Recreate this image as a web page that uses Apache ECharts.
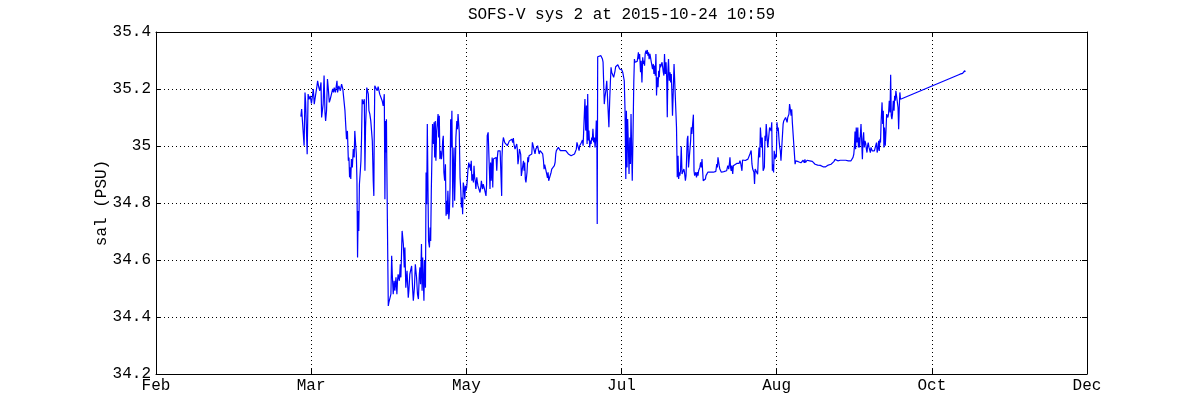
<!DOCTYPE html>
<html><head><meta charset="utf-8">
<script src="https://cdn.jsdelivr.net/npm/echarts@6/dist/echarts.min.js"></script>
<style>html,body{margin:0;padding:0;background:#fff}#c{width:1200px;height:420px}</style>
</head><body><div id="c"></div>
<script>
// x: days since 2015-02-01; ticks every 50.5 days (Feb .. Dec)
const monthLabels = ['Feb','Mar','May','Jul','Aug','Oct','Dec'];
const xMin = 0, xMax = 303, xStep = 50.5;
const yMin = 34.2, yMax = 35.4, yStep = 0.2;
const titleText = 'SOFS-V sys 2 at 2015-10-24 10:59';
const yName = 'sal (PSU)';

// salinity (PSU) samples [day, sal]
const obsMarEarly = [[47.15,35.103],[47.4,35.130],[47.9,35.135],[48.2,35.001],[48.5,35.188],[48.7,35.153],[49.1,35.153],[49.2,34.971],[49.5,35.182],[49.8,35.164],[50.2,35.176],[50.6,35.149],[50.8,35.149],[51.2,35.200],[51.5,35.147],[51.9,35.176],[52.4,35.211],[52.6,35.229],[53.0,35.205],[53.3,35.194],[53.7,35.223],[53.9,35.100],[54.4,35.147],[54.7,35.247],[55.0,35.118],[55.2,35.088],[55.5,35.124],[55.8,35.235],[56.05,35.205],[56.4,35.153],[56.7,35.164],[57.1,35.182],[57.5,35.200],[57.8,35.188],[58.0,35.205],[58.4,35.188],[58.9,35.229],[59.1,35.188],[59.5,35.211],[60.0,35.194],[60.4,35.217],[60.8,35.200],[61.3,35.205],[61.5,35.124]];
const obsMarLate = [[61.7,35.083],[62.0,35.024],[62.3,35.053],[62.6,34.948],[62.8,34.960],[63.0,34.890],[63.2,34.925],[63.4,34.884],[63.6,34.954],[63.9,34.925],[64.2,34.989],[64.5,34.960],[64.7,35.053],[64.9,35.018],[65.2,34.971],[65.4,34.878],[65.6,34.609],[65.8,34.772],[66.0,34.702],[66.2,34.866],[66.5,34.913],[66.7,34.948],[66.9,35.030],[67.1,35.164],[67.4,35.147],[67.8,35.164],[68.0,34.913],[68.2,35.065],[68.4,35.124],[68.6,35.205],[68.9,35.211],[69.1,35.182],[69.3,35.124],[69.6,35.112],[69.9,35.088],[70.4,35.018],[70.7,34.878],[70.9,34.825],[71.0,35.007],[71.2,35.211],[71.7,35.205],[72.0,35.194],[72.3,35.208],[72.8,35.182],[73.2,35.188],[73.6,35.159],[73.95,35.141],[74.3,35.182],[74.5,34.813],[74.7,35.088],[74.8,34.977],[75.0,35.094],[75.1,34.960],[75.4,34.638]];
const obsApr = [[75.6,34.439],[75.8,34.451],[76.1,34.445],[76.45,34.480],[76.7,34.615],[76.9,34.550],[77.2,34.480],[77.5,34.527],[77.75,34.492],[78.1,34.539],[78.4,34.480],[78.6,34.527],[78.8,34.550],[79.2,34.527],[79.5,34.585],[79.7,34.539],[79.9,34.620],[80.1,34.702],[80.5,34.656],[80.8,34.574],[81.0,34.644],[81.3,34.503],[81.7,34.562],[82.1,34.468],[82.3,34.492],[82.6,34.550],[83.2,34.579],[83.5,34.503],[83.75,34.457],[84.1,34.503],[84.4,34.585],[84.6,34.591],[84.8,34.539],[85.1,34.480],[85.4,34.463],[85.7,34.550],[85.9,34.574],[86.1,34.515],[86.4,34.656],[86.6,34.492],[86.8,34.609],[87.0,34.527],[87.2,34.457],[87.4,34.597],[87.7,34.503]];
const obsAprMay = [[87.9,34.907],[88.1,34.796],[88.3,35.077],[88.5,35.071],[88.7,34.667],[89.0,34.644],[89.2,34.714],[89.4,34.667],[89.6,34.843],[89.8,34.849],[90.0,35.077],[90.3,35.007],[90.5,35.083],[90.7,34.960],[90.9,35.088],[91.1,34.948],[91.35,35.053],[91.8,35.112],[92.0,35.030],[92.2,35.106],[92.4,34.954],[92.65,34.983],[92.9,34.954],[93.1,34.971],[93.3,35.018],[93.5,35.036],[93.7,34.907],[93.95,34.878],[94.2,34.936],[94.4,34.755],[94.6,34.808],[94.8,34.761],[95.0,34.843],[95.3,34.743],[95.5,34.772],[95.7,34.854],[95.9,35.094],[96.1,34.995],[96.3,35.124],[96.6,34.784],[96.8,34.936],[97.0,34.995],[97.2,34.808],[97.4,34.907],[97.6,35.030],[97.9,35.088],[98.1,35.059],[98.3,35.112],[98.5,35.118],[98.7,35.048],[98.95,34.890],[99.2,34.843],[99.4,34.784],[99.6,34.819],[99.8,34.761],[100.0,34.872],[100.25,34.854],[100.5,34.813],[100.7,34.860],[100.9,34.843],[101.1,34.854],[101.3,34.878],[101.5,34.913],[101.8,34.942],[102.0,34.925],[102.2,34.936],[102.4,34.913],[102.6,34.948],[102.8,34.878],[103.1,34.901],[103.3,34.872],[103.5,34.931],[103.7,34.890],[103.9,34.878],[104.1,34.849],[104.4,34.890],[104.6,34.872],[104.8,34.860],[105.0,34.854],[105.2,34.866],[105.45,34.837],[105.7,34.854],[105.9,34.878],[106.1,34.860],[106.3,34.849],[106.5,34.866],[106.8,34.854],[107.0,34.860],[107.2,34.849],[107.4,34.825],[107.6,34.866]];
const obsMay = [[107.8,35.036],[108.1,35.048],[108.3,35.042],[108.5,35.053],[108.7,34.849],[108.9,34.942],[109.1,34.878],[109.4,34.960],[109.6,34.854],[109.8,34.954],[110.0,34.954],[110.3,34.960],[110.7,34.960],[110.9,34.913],[111.1,34.960],[111.3,34.983],[111.5,34.989],[111.75,34.986],[112.0,34.983],[112.2,34.977],[112.5,34.825],[112.6,34.960],[112.8,35.007],[113.05,35.030],[113.3,35.036],[113.5,35.012],[113.7,35.018],[113.9,35.007],[114.1,35.012],[114.35,35.001],[114.7,34.995],[115.0,35.018],[115.2,35.024],[115.4,35.012],[115.8,35.024],[116.1,35.012],[116.3,35.028],[116.5,35.007],[116.85,34.989],[117.2,34.995],[117.4,35.007],[117.6,34.989],[117.8,34.936],[118.0,34.954],[118.3,34.989],[118.5,34.983],[118.7,34.971],[118.9,34.895],[119.1,34.890],[119.3,34.925],[119.6,34.948],[119.8,34.913],[120.0,34.942],[120.2,34.884],[120.4,34.872]];
const obsJun = [[120.75,34.908],[121.0,34.960],[121.2,34.943],[121.4,34.966],[121.7,34.966],[122.05,34.972],[122.3,34.972],[122.5,35.013],[122.8,35.019],[123.1,35.007],[123.35,34.972],[123.6,34.989],[123.9,34.995],[124.2,35.001],[124.4,34.989],[124.7,34.972],[125.0,34.984],[125.3,34.978],[125.5,34.978],[125.85,34.972],[126.1,34.949],[126.3,34.919],[126.5,34.935],[126.7,34.925],[126.9,34.931],[127.15,34.902],[127.4,34.888],[127.6,34.908],[127.8,34.878],[128.1,34.884],[128.35,34.878],[128.6,34.908],[128.8,34.919],[129.0,34.913],[129.3,34.919],[129.65,34.931],[129.9,34.943],[130.1,34.972],[130.3,34.984],[130.5,34.984],[130.7,34.989],[130.95,34.995],[131.2,35.001],[131.4,34.995],[131.6,34.984],[131.8,34.989],[132.25,34.989],[132.6,34.984],[132.9,34.989],[133.35,34.984],[133.8,34.984],[134.0,34.978],[134.2,34.972],[134.4,34.966],[134.75,34.966],[135.1,34.966],[135.3,34.972],[135.7,34.970],[136.2,34.972],[136.6,34.972],[136.8,34.989],[137.0,35.013],[137.2,35.019],[137.5,35.019],[137.7,34.984],[137.9,35.001],[138.1,35.007],[138.5,35.013],[138.8,35.021],[139.0,35.001],[139.2,34.995],[139.4,35.007],[139.6,35.165],[139.85,35.054],[140.1,35.142],[140.3,35.007],[140.5,35.182],[140.7,35.019],[140.9,35.054],[141.15,34.995],[141.4,35.019],[141.6,35.007],[141.8,35.030],[142.0,35.019],[142.2,35.060],[142.45,35.013],[142.7,35.030],[142.9,34.995],[143.1,35.025],[143.3,35.089],[143.5,34.995],[143.6,34.726]];
const obsJunJul = [[143.75,35.313],[144.0,35.317],[144.4,35.311],[144.8,35.317],[145.3,35.305],[145.5,35.294],[145.7,35.299],[145.9,35.147],[146.1,35.171],[146.4,35.194],[146.7,35.229],[146.9,35.182],[147.2,35.112],[147.4,35.066],[147.65,35.159],[147.9,35.229],[148.1,35.276],[148.3,35.259],[148.5,35.253],[148.75,35.259],[148.95,35.241],[149.2,35.235],[149.4,35.264],[149.6,35.278],[149.9,35.282],[150.3,35.285],[150.6,35.282],[150.9,35.270],[151.2,35.264],[151.6,35.267],[151.9,35.259],[152.1,35.253],[152.4,35.229],[152.65,35.124],[152.9,34.884],[153.1,35.124],[153.3,34.925],[153.5,35.095],[153.7,35.019],[153.95,34.902],[154.2,35.030],[154.4,34.937],[154.6,35.112],[154.8,34.984],[155.0,34.878],[155.25,35.042],[155.5,35.223],[155.7,35.305],[155.9,35.294],[156.1,35.299],[156.3,35.288],[156.6,35.297],[156.8,35.311],[157.0,35.329],[157.2,35.305],[157.4,35.323]];
const obsJul = [[157.7,35.259],[157.9,35.299],[158.15,35.223],[158.4,35.311],[158.6,35.288],[158.8,35.299],[159.0,35.282],[159.2,35.323],[159.45,35.335],[159.7,35.323],[159.9,35.337],[160.1,35.317],[160.3,35.329],[160.5,35.305],[160.75,35.323],[161.0,35.329],[161.2,35.294],[161.4,35.288],[161.6,35.270],[161.85,35.288],[162.05,35.253],[162.3,35.282],[162.5,35.247],[162.7,35.323],[162.9,35.177],[163.1,35.241],[163.4,35.206],[163.6,35.264],[163.8,35.241],[164.0,35.288],[164.2,35.276],[164.4,35.282],[164.7,35.294],[164.9,35.299],[165.1,35.259],[165.3,35.247],[165.5,35.323],[165.75,35.253],[166.0,35.294],[166.2,35.241],[166.4,35.101],[166.6,35.264],[166.8,35.305],[167.05,35.229],[167.3,35.259],[167.5,35.223],[167.7,35.253],[167.9,35.188],[168.1,35.106],[168.35,35.194],[168.6,35.288],[168.8,35.294],[169.0,35.290],[169.2,35.288],[169.4,35.066]];
const obsJulAug = [[169.65,34.890],[169.9,34.966],[170.1,34.884],[170.3,34.908],[170.5,34.896],[170.7,34.913],[170.95,34.998],[171.2,34.902],[171.4,34.908],[171.6,34.896],[171.8,34.919],[172.0,34.908],[172.3,34.878],[172.5,34.896],[172.7,34.896],[172.9,35.024],[173.1,35.036],[173.3,34.925],[173.6,34.919],[173.8,34.919],[174.0,35.019],[174.2,35.066],[174.4,35.042],[174.6,35.071],[174.9,35.110],[175.1,34.913],[175.3,34.896],[175.5,34.902],[175.7,34.908],[175.9,34.890],[176.2,34.908],[176.4,34.896],[176.6,34.913],[176.8,34.908],[177.0,34.925],[177.25,34.943],[177.5,34.925],[177.7,34.954],[177.9,34.913],[178.1,34.878],[178.3,34.876],[178.5,34.873],[178.8,34.884],[179.0,34.896],[179.2,34.902],[179.6,34.908],[180.1,34.911],[180.5,34.908],[180.9,34.913],[181.4,34.908],[181.8,34.908],[182.2,34.911],[182.5,34.937],[182.7,34.925],[182.9,34.960],[183.1,34.966],[183.3,34.931],[183.5,34.919],[184.0,34.908],[184.4,34.911],[184.8,34.910],[185.3,34.913],[185.7,34.913],[186.1,34.931],[186.4,34.919],[186.6,34.937],[186.8,34.960],[187.0,34.925],[187.2,34.913],[187.4,34.931],[187.7,34.902],[187.9,34.931],[188.1,34.935],[188.5,34.937],[189.0,34.939],[189.4,34.939],[189.8,34.939],[190.05,34.949],[190.3,34.939],[190.5,34.943],[190.7,34.913],[190.9,34.951],[191.35,34.951],[191.8,34.949],[192.2,34.951],[192.65,34.954],[193.1,34.949],[193.3,34.972],[193.5,34.966],[193.7,34.984],[193.95,34.937],[194.2,34.919],[194.4,34.925],[194.6,34.908],[194.8,34.867],[195.0,34.919]];
const obsAug = [[195.4,34.913],[195.8,34.901],[196.0,34.948],[196.25,34.995],[196.5,34.960],[196.7,35.065],[196.9,35.071],[197.1,34.995],[197.3,35.030],[197.6,34.913],[197.8,34.907],[198.0,34.925],[198.2,35.036],[198.4,35.018],[198.6,35.077],[198.9,35.083],[199.1,34.995],[199.3,35.018],[199.5,35.042],[199.7,35.065],[199.9,35.071],[200.2,35.053],[200.4,35.083],[200.6,34.913],[200.8,34.936],[201.0,34.907],[201.2,34.983],[201.5,34.954],[201.7,34.971],[201.9,34.960],[202.1,35.083],[202.3,35.053],[202.5,35.065],[202.8,35.018],[203.0,34.995],[203.2,34.983],[203.4,34.948],[203.6,34.954],[203.85,34.945],[204.1,35.077],[204.3,35.088],[204.5,35.083],[204.7,35.083],[204.9,35.100],[205.15,35.094],[205.4,35.083],[205.6,35.100],[205.8,35.106],[206.0,35.112],[206.2,35.147],[206.45,35.129],[206.7,35.106],[206.9,35.129],[207.1,35.083],[207.3,35.088],[207.5,35.083],[207.75,35.088]];
const obsSep = [[208.0,34.936],[208.2,34.948],[208.4,34.948],[208.6,34.942],[209.05,34.945],[209.5,34.939],[209.9,34.941],[210.4,34.936],[210.6,34.950],[210.8,34.945],[211.0,34.941],[211.2,34.953],[211.4,34.942],[211.7,34.948],[211.9,34.950],[212.3,34.945],[212.75,34.948],[213.2,34.946],[213.6,34.946],[214.05,34.942],[214.5,34.936],[214.9,34.932],[215.35,34.933],[215.8,34.934],[216.2,34.932],[216.65,34.933],[217.1,34.927],[217.5,34.929],[217.95,34.927],[218.4,34.931],[218.8,34.933],[219.25,34.932],[219.7,34.936],[220.1,34.936],[220.6,34.945],[221.0,34.953],[221.4,34.950],[221.9,34.948],[222.3,34.948],[222.7,34.950],[223.2,34.948],[223.6,34.950],[224.0,34.948],[224.5,34.950],[224.9,34.948],[225.3,34.948],[225.8,34.946],[226.2,34.948],[226.6,34.950],[226.85,34.960],[227.1,34.971],[227.3,34.997],[227.5,35.051],[227.7,34.989],[227.9,35.065],[228.15,35.012],[228.4,35.065],[228.6,34.995],[228.8,35.030],[229.0,34.995],[229.2,34.995],[229.45,35.077],[229.7,35.007],[229.9,34.954],[230.1,35.024],[230.3,35.048],[230.5,34.995],[230.75,35.018],[231.0,35.007],[231.2,34.989],[231.4,34.977],[231.6,35.001],[231.8,35.012],[232.05,34.995],[232.3,34.989],[232.5,34.977],[232.7,34.995],[232.9,35.001],[233.1,34.983],[233.4,34.977],[233.6,34.989],[233.8,34.983]];
const obsSepOct = [[234.0,34.983],[234.3,34.977],[234.5,35.012],[234.7,34.977],[234.95,34.989],[235.2,35.018],[235.4,34.983],[235.6,35.024],[235.8,35.012],[236.0,35.088],[236.3,35.153],[236.5,35.077],[236.7,35.124],[236.9,34.995],[237.1,35.065],[237.35,35.001],[237.6,35.059],[237.8,35.112],[238.0,35.118],[238.2,35.100],[238.4,35.112],[238.65,35.159],[238.9,35.118],[239.1,35.250],[239.3,35.106],[239.5,35.094],[239.7,35.112],[239.95,35.159],[240.2,35.124],[240.4,35.176],[240.6,35.159],[240.8,35.194],[241.0,35.188],[241.25,35.188],[241.5,35.135],[241.7,35.059],[241.9,35.135],[242.1,35.188],[242.3,35.164],[261.65,35.252],[261.9,35.250],[262.2,35.258],[262.5,35.255],[262.95,35.255],[263.2,35.264],[263.4,35.260]];

const series = [].concat(obsMarEarly, obsMarLate, obsApr, obsAprMay, obsMay, obsJun, obsJunJul, obsJul, obsJulAug, obsAug, obsSep, obsSepOct);

const FONT = '"Liberation Mono", "DejaVu Sans Mono", monospace';
const FS = 16;
const black = '#000';
const tick = {show: true, inside: true, length: 5, lineStyle: {color: black, width: 1}};
const line = {show: true, onZero: false, lineStyle: {color: black, width: 1}};
const dotted = {show: true, lineStyle: {color: black, width: 1, type: [1, 3]}};

const chart = echarts.init(document.getElementById('c'), null, {renderer: 'canvas'});
chart.setOption({
  animation: false,
  backgroundColor: '#fff',
  grid: {left: 156, right: 113, top: 32, bottom: 46, containLabel: false},
  graphic: [{
    type: 'text', x: 621.5, y: 15,
    style: {text: titleText, fontFamily: FONT, fontSize: FS, fill: black, align: 'center', verticalAlign: 'middle'}
  }],
  xAxis: [{
    type: 'value', min: xMin, max: xMax, interval: xStep, position: 'bottom',
    axisLine: line, axisTick: tick,
    axisLabel: {formatter: v => monthLabels[Math.round(v / xStep)] || '', fontFamily: FONT, fontSize: FS, color: black, margin: 4, showMinLabel: true, showMaxLabel: true},
    splitLine: dotted
  }, {
    type: 'value', min: xMin, max: xMax, interval: xStep, position: 'top',
    axisLine: line, axisTick: tick, axisLabel: {show: false}, splitLine: {show: false}
  }],
  yAxis: [{
    type: 'value', min: yMin, max: yMax, interval: yStep, position: 'left',
    name: yName, nameLocation: 'middle', nameGap: 46, nameMoveOverlap: false,
    nameTextStyle: {fontFamily: FONT, fontSize: FS, color: black},
    axisLine: line, axisTick: tick,
    axisLabel: {fontFamily: FONT, fontSize: FS, color: black, margin: 5, formatter: v => String(+v.toFixed(1))},
    splitLine: dotted
  }, {
    type: 'value', min: yMin, max: yMax, interval: yStep, position: 'right',
    axisLine: line, axisTick: tick, axisLabel: {show: false}, splitLine: {show: false}
  }],
  series: [{
    type: 'line', xAxisIndex: 0, yAxisIndex: 0, data: series,
    showSymbol: false, symbol: 'none', smooth: false,
    lineStyle: {color: '#0000ff', width: 1.2}, itemStyle: {color: '#0000ff'}
  }]
});
</script>
</body></html>
